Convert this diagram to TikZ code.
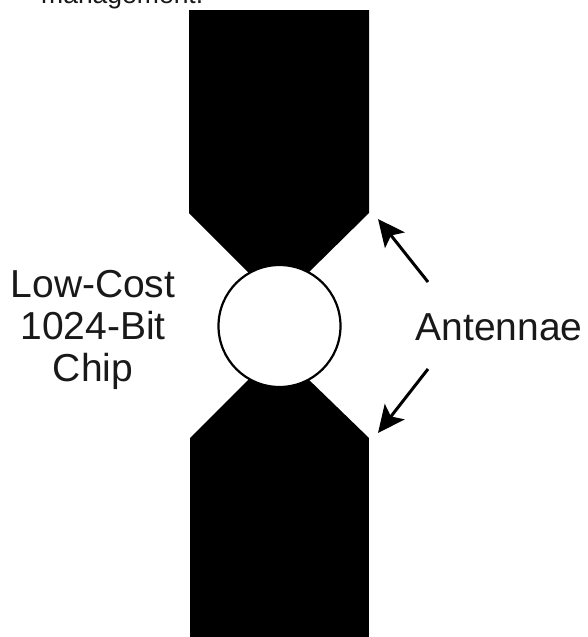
\documentclass[tikz,border=0pt]{standalone}
\usepackage{fontspec}
\setmainfont{Liberation Sans}
\usetikzlibrary{arrows.meta}
\tikzset{
  label text/.style={inner sep=0pt,font=\fontsize{39}{42}\selectfont,align=center,text=black!90},
  antenna/.style={fill=black,draw=none},
  pointer/.style={draw=black,line width=3pt,-{Stealth[length=27pt,width=25pt,inset=6pt]}},
}
\begin{document}
\begin{tikzpicture}[x=1pt,y=-1pt]
\useasboundingbox (0,0) rectangle (587,637);
\clip (0,0) rectangle (587,637);
\fill[white] (0,0) rectangle (587,637);
\node[anchor=base west,inner sep=0pt,font=\fontsize{26.5}{30}\selectfont,text=black!90] (caption) at (41,4) {management.};
\fill[antenna] (189,10) -- (369,10) -- (369,213) -- (305,276) -- (252,276) -- (189,213) -- cycle;
\fill[antenna] (190,438) -- (369,438) -- (369,637) -- (190,637) -- cycle;
\fill[antenna] (190,438) -- (252,376) -- (305,376) -- (369,438) -- cycle;
\node[circle,draw=black,fill=white,line width=2.2pt,minimum size=122pt,inner sep=0pt] (chip) at (279.5,326) {};
\node[label text,anchor=center] (chiplabel) at (93,330) {Low-Cost\\1024-Bit\\Chip};
\node[label text,anchor=center] (antlabel) at (499,327) {Antennae};
\coordinate (t1) at (428,282);
\coordinate (t2) at (378,219);
\coordinate (b1) at (428,369);
\coordinate (b2) at (378,433);
\draw[pointer] (t1) -- (t2);
\draw[pointer] (b1) -- (b2);
\end{tikzpicture}
\end{document}
